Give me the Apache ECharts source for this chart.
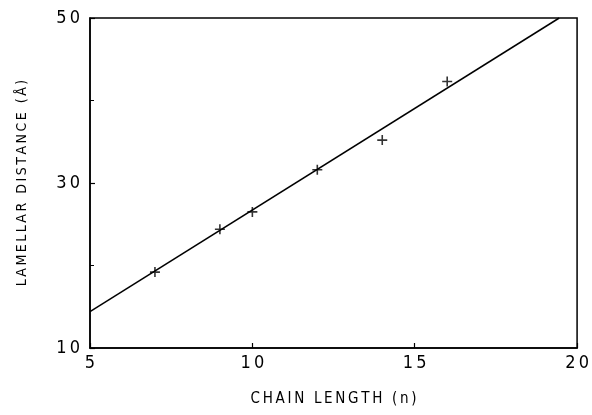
<!DOCTYPE html>
<html><head><meta charset="utf-8">
<script src="https://cdn.jsdelivr.net/npm/echarts@6/dist/echarts.min.js"></script>
<style>html,body{margin:0;padding:0;background:#fff}#c{width:592px;height:415px}</style>
</head><body><div id="c"></div>
<script>
const chainLength = [7, 9, 10, 12, 14, 16];
const lamellarDistance = [19.2, 24.4, 26.5, 31.6, 35.2, 42.3];
const fitX = [5, 19.45];
const fitY = [14.4, 50];
const xTicks = [5, 10, 15, 20];
const yTicks = [10, 30, 50];
const xTitle = 'CHAIN LENGTH (n)';
const yTitle = 'LAMELLAR DISTANCE (Å)';
const sp = s => String(s).split('').join('\u2009');
const font = '"Liberation Sans Narrow", "DejaVu Sans Condensed", "DejaVu Sans", sans-serif';

const chart = echarts.init(document.getElementById('c'));
chart.setOption({
  animation: false,
  grid: {left: 90, right: 12, top: 18, bottom: 67, show: true, borderColor: '#000', borderWidth: 1.5, backgroundColor: 'transparent'},
  xAxis: {
    type: 'value', min: 5, max: 20, interval: 5,
    name: sp(xTitle), nameLocation: 'middle', nameGap: 44,
    nameTextStyle: {color: '#000', fontSize: 15, fontFamily: font},
    axisLine: {show: true, lineStyle: {color: '#000', width: 1.5}},
    axisTick: {show: true, inside: true, length: 5, lineStyle: {color: '#000', width: 1.2}},
    axisLabel: {color: '#000', fontSize: 18, fontFamily: font, margin: 6, formatter: v => xTicks.includes(v) ? sp(v) : ''},
    splitLine: {show: false}
  },
  yAxis: {
    type: 'value', min: 10, max: 50, interval: 20,
    name: sp(yTitle), nameLocation: 'middle', nameGap: 61, nameRotate: 90,
    nameTextStyle: {color: '#000', fontSize: 14, fontFamily: font},
    axisLine: {show: true, lineStyle: {color: '#000', width: 1.5}},
    axisTick: {show: true, inside: true, length: 5, lineStyle: {color: '#000', width: 1.2}},
    minorTick: {show: true, splitNumber: 2, length: 4, lineStyle: {color: '#000', width: 1}},
    axisLabel: {color: '#000', fontSize: 18, fontFamily: font, margin: 10, formatter: v => yTicks.includes(v) ? sp(v) : ''},
    splitLine: {show: false}
  },
  series: [
    {
      type: 'line', data: fitX.map((x, i) => [x, fitY[i]]),
      showSymbol: false, symbol: 'none',
      lineStyle: {color: '#000', width: 1.5}, silent: true
    },
    {
      type: 'scatter', data: chainLength.map((x, i) => [x, lamellarDistance[i]]),
      symbol: 'path://M4.2,0H5.8V10H4.2Z M0,4.2H10V5.8H0Z', symbolSize: 10,
      itemStyle: {color: '#000'}
    }
  ]
});
</script></body></html>
